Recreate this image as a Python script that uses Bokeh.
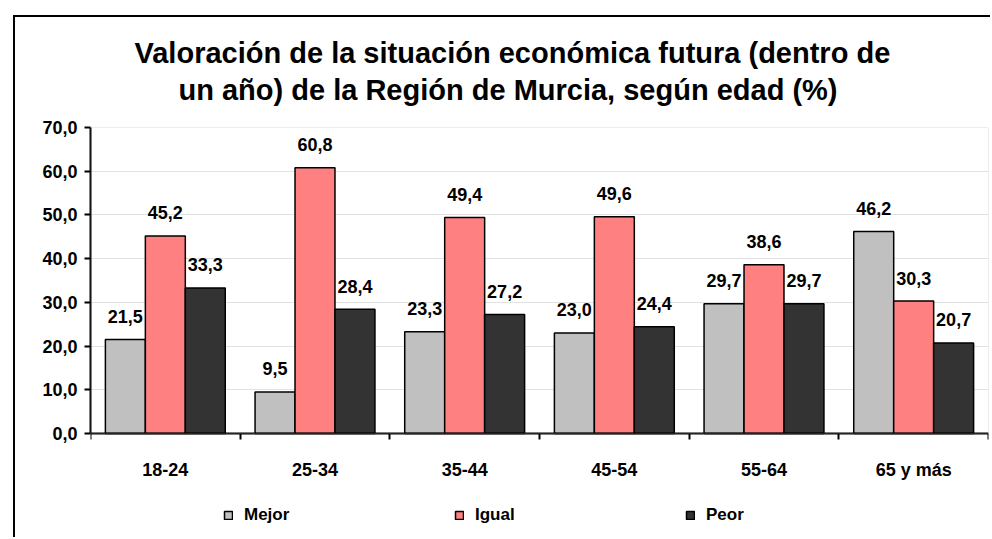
import numpy as np
from bokeh.plotting import figure
from bokeh.models import (Range1d, FixedTicker, Title, LabelSet, ColumnDataSource,
                          Legend, LegendItem, BoxAnnotation)
from bokeh.core.properties import value
from bokeh.embed import file_html
from bokeh.resources import INLINE

ages = ["18-24", "25-34", "35-44", "45-54", "55-64", "65 y más"]
series = ["Mejor", "Igual", "Peor"]
mejor = [21.5, 9.5, 23.3, 23.0, 29.7, 46.2]
igual = [45.2, 60.8, 49.4, 49.6, 38.6, 30.3]
peor = [33.3, 28.4, 27.2, 24.4, 29.7, 20.7]
colors = ["#C0C0C0", "#FF8080", "#333333"]
y_ticks = [0, 10, 20, 30, 40, 50, 60, 70]
title_lines = ["Valoración de la situación económica futura (dentro de",
               "un año) de la Región de Murcia, según edad (%)"]

FONT = "Liberation Sans"
BAR_W = 0.267
Y_MAX = 70
Y_LOW = -23.34  # room under the axis for category labels and legend

p = figure(width=977, height=522, output_backend="svg", toolbar_location=None,
           x_range=Range1d(0, len(ages)), y_range=Range1d(Y_LOW, Y_MAX),
           min_border_left=75, min_border_top=110, min_border_right=4,
           min_border_bottom=4, title=None)
p.margin = (15, 0, 0, 13)
p.styles = {"border-left": "2px solid #000000", "border-top": "2px solid #000000"}
p.outline_line_color = None
p.background_fill_color = "white"
p.border_fill_color = "white"

# plot-area border (gray)
p.add_layout(BoxAnnotation(left=0, right=len(ages), bottom=0, top=Y_MAX,
                           fill_alpha=0, line_color="#808080", line_width=1))

centers = np.arange(len(ages)) + 0.5
vals = [mejor, igual, peor]
offsets = [-BAR_W, 0.0, BAR_W]
items = []
for name, v, c, off in zip(series, vals, colors, offsets):
    src = ColumnDataSource(dict(x=centers + off, top=v,
                                lab=[f"{t:.1f}".replace(".", ",") for t in v]))
    r = p.vbar(x="x", top="top", width=BAR_W, bottom=0, source=src,
               fill_color=c, line_color="black", line_width=1.5)
    items.append(LegendItem(label=name, renderers=[r]))
    ls = LabelSet(x="x", y="top", text="lab", source=src, y_offset=23,
                  text_align="center", text_baseline="middle",
                  text_font=value(FONT), text_font_style="bold",
                  text_font_size="18px", text_color="black")
    p.add_layout(ls)

# axes
p.xaxis.fixed_location = 0
p.xaxis.ticker = FixedTicker(ticks=list(centers), minor_ticks=list(range(len(ages) + 1)))
p.xaxis.major_label_overrides = {float(c): a for c, a in zip(centers, ages)}
p.xaxis.major_tick_line_color = None
p.xaxis.minor_tick_in = 0
p.xaxis.minor_tick_out = 6
p.xaxis.minor_tick_line_color = "black"
p.xaxis.minor_tick_line_width = 2
p.xaxis.major_label_standoff = 21
p.yaxis.ticker = FixedTicker(ticks=y_ticks)
p.yaxis.bounds = (0, Y_MAX)
p.yaxis.major_label_overrides = {t: f"{t:.1f}".replace(".", ",") for t in y_ticks}
p.yaxis.major_tick_in = 0
p.yaxis.major_tick_out = 6
p.yaxis.minor_tick_line_color = None
p.yaxis.major_label_standoff = 7
for ax in (p.xaxis, p.yaxis):
    ax.axis_line_color = "black"
    ax.axis_line_width = 2
    ax.major_tick_line_width = 2
    ax.major_label_text_font = FONT
    ax.major_label_text_font_style = "bold"
    ax.major_label_text_font_size = "18px"
    ax.major_label_text_color = "black"

p.xgrid.grid_line_color = None
p.ygrid.grid_line_color = "#c4c4c4"
p.ygrid.grid_line_width = 1
p.ygrid.grid_line_dash = "1 1"

# title (second line nearest the plot)
for txt, so, off in zip(reversed(title_lines), [43, -36], [88, 44]):
    p.add_layout(Title(text=txt, align="left", offset=off, standoff=so,
                       text_font=FONT, text_font_style="bold",
                       text_font_size="29px", text_color="black"), "above")

legend = Legend(items=items, orientation="horizontal", location=(133, 10),
                border_line_color=None, background_fill_alpha=0,
                padding=0, margin=0, glyph_width=10, glyph_height=10,
                label_standoff=11, label_width=210, label_height=14, spacing=0,
                label_text_font=FONT, label_text_font_style="bold",
                label_text_font_size="17px", label_text_color="black")
p.add_layout(legend, "center")

open("out.html", "w").write(file_html(p, INLINE))
